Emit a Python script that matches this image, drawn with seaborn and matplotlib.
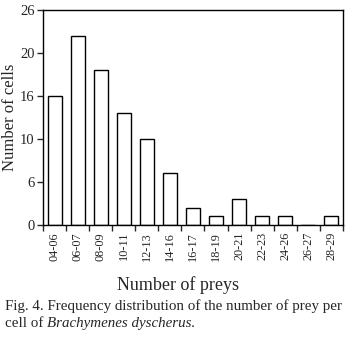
import matplotlib
matplotlib.use("Agg")
import matplotlib.pyplot as plt
import seaborn as sns
import pandas as pd
from matplotlib.ticker import FixedLocator

categories = ["04-06", "06-07", "08-09", "10-11", "12-13", "14-16", "16-17",
              "18-19", "20-21", "22-23", "24-26", "26-27", "28-29"]
counts = [15, 22, 18, 13, 10, 6, 2, 1, 3, 1, 1, 0, 1]
ytick_values = [0, 5, 10, 15, 20, 25]
ytick_labels = ["0", "6", "10", "16", "20", "26"]

sns.set_style("white")
plt.rcParams['font.family'] = ['Liberation Serif', 'DejaVu Serif']

df = pd.DataFrame({"range": categories, "cells": counts})

fig = plt.figure(figsize=(3.59, 3.51), dpi=100)
ax = fig.add_axes([0.120, 0.359, 0.835, 0.613])
sns.barplot(data=df, x="range", y="cells", color="white", edgecolor="black",
            linewidth=1.0, width=0.6, ax=ax, saturation=1)

ax.set_xlim(-0.5, len(categories) - 0.5)
ax.set_ylim(0, 25)
ax.set_yticks(ytick_values)
ax.set_yticklabels(ytick_labels, fontsize=10.5)
ax.set_xticks(range(len(categories)))
ax.set_xticklabels(categories, rotation=90, fontsize=8.8)
ax.xaxis.set_minor_locator(FixedLocator([i + 0.5 for i in range(-1, len(categories))]))
ax.tick_params(axis="x", which="major", length=0, pad=5)
ax.tick_params(axis="x", which="minor", length=4, width=1, direction="out", bottom=True)
ax.tick_params(axis="y", which="major", length=4, width=1, direction="out", left=True, pad=2)
for s in ax.spines.values():
    s.set_visible(True)
    s.set_color("black")
    s.set_linewidth(1.0)

ax.set_xlabel("")
ax.set_ylabel("Number of cells", fontsize=12)
ax.yaxis.set_label_coords(-0.083, 0.5)
fig.text(0.495, 0.188, "Number of preys", fontsize=13, ha="center", va="center")

cap_fs = 10.8
fig.text(0.014, 0.128, "Fig. 4. Frequency distribution of the number of prey per",
         fontsize=cap_fs, ha="left", va="center")
t1 = fig.text(0.014, 0.078, "cell of ", fontsize=cap_fs, ha="left", va="center")
fig.canvas.draw()
bb = t1.get_window_extent(renderer=fig.canvas.get_renderer())
x_end = bb.x1 / fig.bbox.width
fig.text(x_end, 0.078, "Brachymenes dyscherus.", fontsize=cap_fs, ha="left",
         va="center", style="italic")

fig.savefig("out.png", dpi=100)
